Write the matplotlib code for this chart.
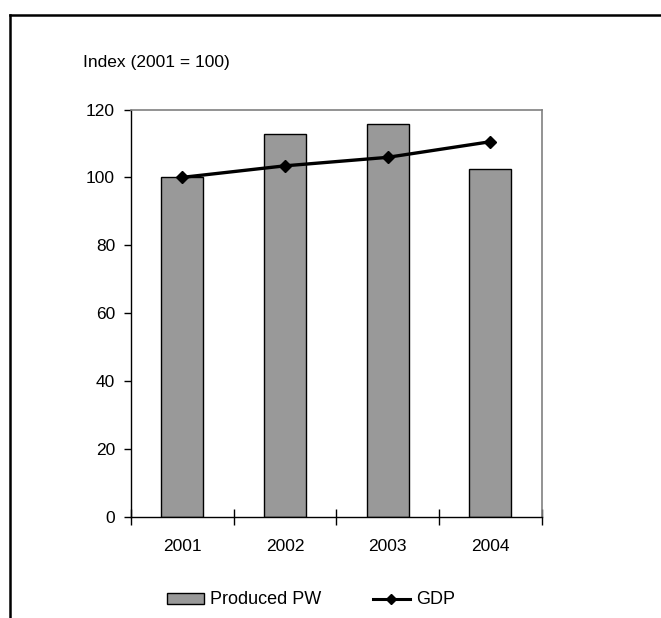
import matplotlib
matplotlib.use('Agg')
import matplotlib.pyplot as plt
import matplotlib.lines as mlines
import numpy as np

# ── Data ──────────────────────────────────────────────────────────────────────
years = ['2001', '2002', '2003', '2004']
produced_pw = [100.0, 112.8, 115.6, 102.5]
gdp = [100.0, 103.4, 105.9, 110.5]
y_ticks = [0, 20, 40, 60, 80, 100, 120]

plt.rcParams['font.family'] = ['Liberation Sans', 'DejaVu Sans']

W, H = 661, 618
fig = plt.figure(figsize=(W / 100, H / 100), dpi=100)
fig.patch.set_facecolor('white')

# outer frame (top and left edges only visible)
fig.add_artist(mlines.Line2D([9.5 / W, 1.0], [1 - 14.5 / H, 1 - 14.5 / H],
                             color='black', lw=1.8, transform=fig.transFigure))
fig.add_artist(mlines.Line2D([9.5 / W, 9.5 / W], [0.0, 1 - 14.5 / H],
                             color='black', lw=1.8, transform=fig.transFigure))

ax = fig.add_axes([131 / W, 1 - 516.7 / H, 410.5 / W, 407.2 / H])

x = np.arange(len(years))
bars = ax.bar(x, produced_pw, width=0.41, color='#999999', edgecolor='black',
              linewidth=1.0, label='Produced PW', zorder=2)
line, = ax.plot(x, gdp, color='black', lw=2.4, marker='D', markersize=6.5,
                label='GDP', zorder=3)

ax.set_xlim(-0.5, len(years) - 0.5)
ax.set_ylim(0, 120)
ax.set_yticks(y_ticks)

# boundary ticks crossing the axis, labels centred between them
ax.set_xticks(np.arange(-0.5, len(years)), [''] * (len(years) + 1))
ax.set_xticks(x, years, minor=True)
ax.tick_params(axis='x', which='major', direction='inout', length=12,
               width=1.0, color='black')
ax.tick_params(axis='x', which='minor', length=0, pad=16, labelsize=12.5)
ax.tick_params(axis='y', direction='out', length=5, width=1.0, pad=6.5,
               labelsize=12.5)

for side in ('top', 'right'):
    ax.spines[side].set_color('#808080')
    ax.spines[side].set_linewidth(1.2)
for side in ('left', 'bottom'):
    ax.spines[side].set_color('black')
    ax.spines[side].set_linewidth(1.0)

fig.text(83 / W, 1 - 63 / H, 'Index (2001 = 100)', fontsize=12.5,
         ha='left', va='center')

# legend: proxy line with a smaller diamond, like the original
gdp_handle = mlines.Line2D([], [], color='black', lw=2.2, marker='D',
                           markersize=5, label='GDP')
fig.legend(handles=[bars, gdp_handle], loc='center left',
           bbox_to_anchor=(167 / W, 1 - 600 / H), ncol=2, frameon=False,
           fontsize=13, handlelength=2.05, handleheight=0.55,
           handletextpad=0.33, columnspacing=2.85, borderpad=0,
           borderaxespad=0)

fig.savefig('out.png', dpi=100, facecolor='white')
